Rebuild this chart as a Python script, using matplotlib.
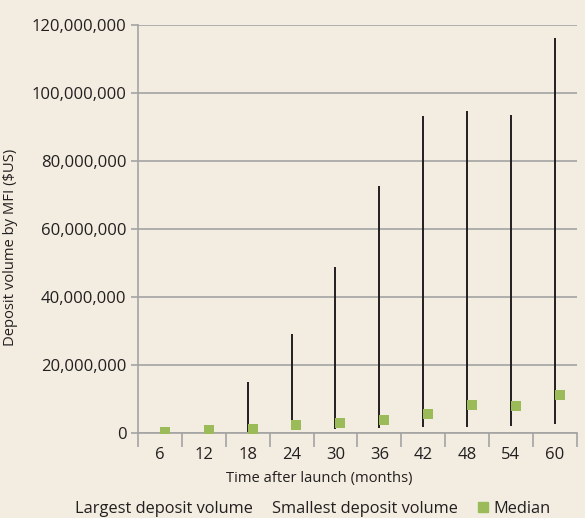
import matplotlib.pyplot as plt
from matplotlib.lines import Line2D
from matplotlib.ticker import FuncFormatter

months = [6, 12, 18, 24, 30, 36, 42, 48, 54, 60]
largest = [None, None, 15.1e6, 29.1e6, 48.8e6, 72.6e6, 93.2e6, 94.7e6, 93.4e6, 116.0e6]
smallest = [None, None, 0.4e6, 0.9e6, 1.2e6, 1.4e6, 1.7e6, 1.7e6, 2.1e6, 2.6e6]
median = [0.4e6, 0.9e6, 1.3e6, 2.4e6, 3.1e6, 3.9e6, 5.5e6, 8.2e6, 8.0e6, 11.3e6]

bg = '#f2ede0'
green = '#9bbb59'
grey = '#a3a3a3'
ink = '#231f20'

plt.rcParams['font.family'] = ['Open Sans', 'DejaVu Sans']

fig = plt.figure(figsize=(5.85, 5.18), dpi=100, facecolor=bg)
ax = fig.add_axes([0.236, 0.164, 0.75, 0.788], facecolor=bg)

centers = [i + 0.5 for i in range(len(months))]
lx = [c for c, lo in zip(centers, smallest) if lo is not None]
lo = [v for v in smallest if v is not None]
hi = [v for v in largest if v is not None]
ax.vlines(lx, lo, hi, color=ink, lw=1.4, zorder=3)
ax.scatter([c + 0.11 for c in centers], median, marker='s', s=58, color=green, zorder=4, linewidths=0)

ax.set_xlim(0, len(months))
ax.set_ylim(0, 120e6)
ax.set_yticks(range(0, 120000001, 20000000))
ax.yaxis.set_major_formatter(FuncFormatter(lambda v, p: f'{int(v):,}'))
ax.set_xticks(range(len(months) + 1))
ax.set_xticklabels([])
ax.set_xticks(centers, minor=True)
ax.set_xticklabels([str(m) for m in months], minor=True)
ax.tick_params(axis='x', which='major', length=10, width=1.2, color=grey, direction='out')
ax.tick_params(axis='x', which='minor', length=0, pad=10, labelsize=12, labelcolor=ink)
ax.tick_params(axis='y', length=5, width=1.2, color=grey, labelsize=12, labelcolor=ink)

ax.grid(axis='y', color=grey, lw=1.2)
ax.set_axisbelow(True)
for s in ['top', 'right']:
    ax.spines[s].set_visible(False)
for s in ['left', 'bottom']:
    ax.spines[s].set_color(grey)
    ax.spines[s].set_linewidth(1.2)

ax.set_xlabel('Time after launch (months)', fontsize=10.6, color=ink)
ax.xaxis.set_label_coords(0.412, -0.093)
ax.set_ylabel('Deposit volume by MFI ($US)', fontsize=10.6, color=ink)
ax.yaxis.set_label_coords(-0.274, 0.456)

# the range series have no visible key, only the median gets a square
blank = [Line2D([], [], lw=0), Line2D([], [], lw=0)]
leg1 = fig.legend(blank, ['Largest deposit volume', 'Smallest deposit volume'],
                  loc='center left', bbox_to_anchor=(0.128, 0.017), ncol=2, frameon=False,
                  fontsize=11.8, handlelength=0, handletextpad=0, columnspacing=1.15,
                  labelcolor=ink, borderpad=0, borderaxespad=0)
fig.legend([Line2D([], [], lw=0, marker='s', color=green, markersize=6.5)], ['Median'],
           loc='center left', bbox_to_anchor=(0.818, 0.017), frameon=False,
           fontsize=11.8, handlelength=0.55, handletextpad=0.35,
           labelcolor=ink, borderpad=0, borderaxespad=0)

fig.savefig('out.png', dpi=100, facecolor=bg)
